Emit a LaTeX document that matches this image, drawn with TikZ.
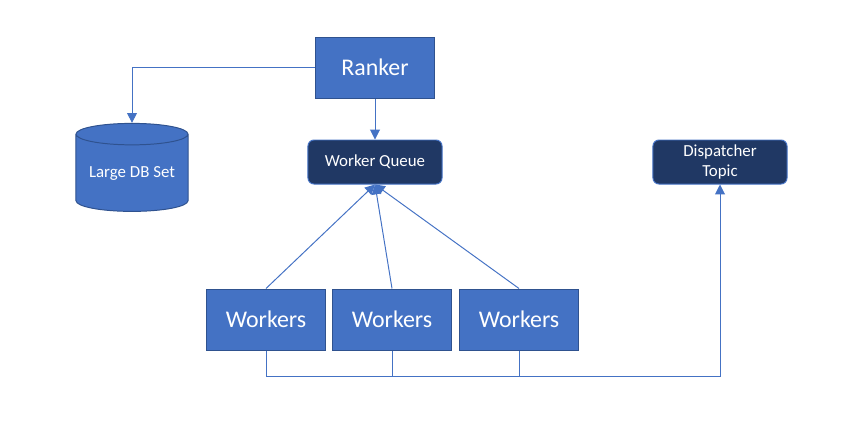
\documentclass[tikz,border=0pt]{standalone}
\usepackage{fontspec}
\setmainfont{Carlito}
\usepackage{tikz}
\usetikzlibrary{arrows.meta,shapes.geometric}

\definecolor{boxblue}{HTML}{4472C4}
\definecolor{boxedge}{HTML}{2F528F}
\definecolor{navy}{HTML}{203864}

\begin{document}
\begin{tikzpicture}[x=0.025cm,y=-0.025cm,
  >={Triangle[length=7pt,width=7pt]},line width=0.7pt,
  big box/.style={rectangle,fill=boxblue,draw=boxedge,text=white,
  font=\fontsize{17}{20}\selectfont,minimum width=2.95cm,minimum height=1.525cm,inner sep=0pt},
  topic box/.style={rectangle,rounded corners=0.15cm,fill=navy,draw=boxblue,text=white,
  font=\fontsize{12}{14}\selectfont,minimum width=3.35cm,minimum height=1.1cm,
  inner sep=0pt,align=center},
  db/.style={cylinder,shape border rotate=90,aspect=0.25,fill=boxblue,draw=boxedge,
  text=white,font=\fontsize{12}{14}\selectfont,minimum width=2.8cm,minimum height=2.2cm,inner sep=0pt},
  link/.style={color=boxblue}]
  \useasboundingbox (0,0) rectangle (848,436);

  \node[big box] (ranker) at (375,67.5) {Ranker};
  \node[topic box] (queue) at (375,162) {Worker Queue};
  \node[db] (dbset) at (132,173) {Large DB Set};
  \node[topic box] (topic) at (720,162) {Dispatcher\\Topic};
  \node[big box] (w1) at (266,319.5) {Workers};
  \node[big box] (w2) at (392,319.5) {Workers};
  \node[big box] (w3) at (519,319.5) {Workers};
  \coordinate (bus) at (720,376);

  \path[link,->]
    (ranker) edge (queue)
    (ranker.west) edge[to path={-| (\tikztotarget)}] (dbset.north)
    (w1.north) edge (queue.south)
    (w2.north) edge (queue.south)
    (w3.north) edge (queue.south);
  % return line along the bottom
  \draw[link] (w1.south) |- (bus);
  \draw[link] (w2.south) |- (bus);
  \draw[link,->] (w3.south) |- (bus) -- (topic.south);
\end{tikzpicture}
\end{document}
